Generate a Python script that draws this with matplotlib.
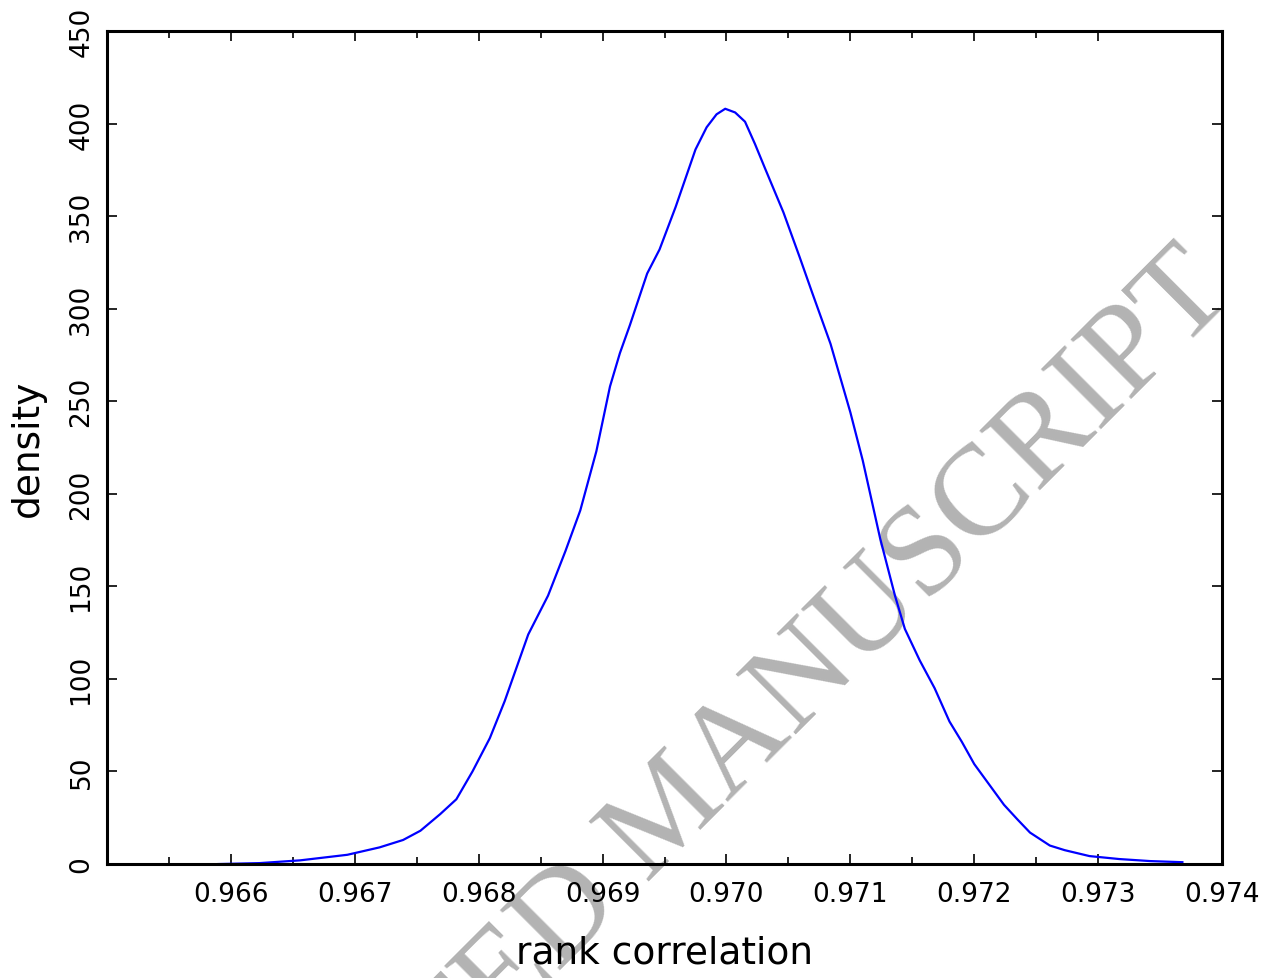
import matplotlib
matplotlib.use('Agg')
import matplotlib.pyplot as plt
import numpy as np

# density curve
rank_corr = [0.96590, 0.96623, 0.96656, 0.96694, 0.96720, 0.96739, 0.96753, 0.96769,
             0.96782, 0.96795, 0.96809, 0.96821, 0.96840, 0.96856, 0.96870, 0.96882,
             0.96895, 0.96906, 0.96914, 0.96922, 0.96936, 0.96946, 0.96959, 0.96975,
             0.96984, 0.96992, 0.96999, 0.97007, 0.97015, 0.97023, 0.97031, 0.97046,
             0.97059, 0.97069, 0.97084, 0.97100, 0.97110, 0.97124, 0.97136, 0.97144,
             0.97156, 0.97168, 0.97180, 0.97190, 0.97200, 0.97212, 0.97224, 0.97235,
             0.97245, 0.97261, 0.97273, 0.97293, 0.97317, 0.97342, 0.97368]
density = [0.0, 0.5, 2.0, 5.0, 9.0, 13.0, 18.0, 27.0,
           35.0, 50.0, 68.0, 88.0, 124.0, 145.0, 169.0, 191.0,
           223.0, 258.0, 276.0, 291.0, 319.0, 332.0, 355.0, 386.0,
           398.0, 405.0, 408.0, 406.0, 401.0, 389.0, 376.0, 352.0,
           328.0, 309.0, 281.0, 244.0, 218.0, 176.0, 145.0, 127.0,
           110.0, 95.0, 77.0, 66.0, 54.0, 43.0, 32.0, 24.0,
           17.0, 10.0, 7.5, 4.3, 2.7, 1.6, 1.0]

x_ticks = [0.966, 0.967, 0.968, 0.969, 0.970, 0.971, 0.972, 0.973, 0.974]
y_ticks = [0, 50, 100, 150, 200, 250, 300, 350, 400, 450]

plt.rcParams['font.family'] = ['DejaVu Sans']

fig = plt.figure(figsize=(12.69, 9.79), dpi=100)
ax = fig.add_axes([0.0843, 0.1164, 0.8787, 0.8509])
ax.set_facecolor('none')

# watermark sits behind everything
fig.text(0.547, 0.145, 'ACCEPTED MANUSCRIPT', rotation=45, rotation_mode='anchor',
         ha='center', va='baseline', fontsize=93, color='#b3b3b3',
         family='Liberation Serif', zorder=-5)

ax.plot(rank_corr, density, color='#0000ff', lw=1.6)

ax.set_xlim(0.965, 0.974)
ax.set_ylim(0, 450)
ax.set_xticks(x_ticks)
ax.set_xticklabels(['%.3f' % t for t in x_ticks])
ax.set_xticks(np.array(x_ticks[:-1]) - 0.0005, minor=True)
ax.set_yticks(y_ticks)
ax.set_yticklabels([str(t) for t in y_ticks], rotation=90, va='center')

ax.tick_params(axis='both', which='major', direction='in', length=7, width=1.2,
               labelsize=19, top=True, right=True)
ax.tick_params(axis='x', which='major', pad=12)
ax.tick_params(axis='y', which='major', pad=9)
ax.tick_params(axis='x', which='minor', direction='in', length=5, width=1.2, top=True)
for s in ax.spines.values():
    s.set_linewidth(2.2)

ax.set_xlabel('rank correlation', fontsize=27, labelpad=20)
ax.set_ylabel('density', fontsize=27, labelpad=16)

fig.savefig('out.png', dpi=100)
